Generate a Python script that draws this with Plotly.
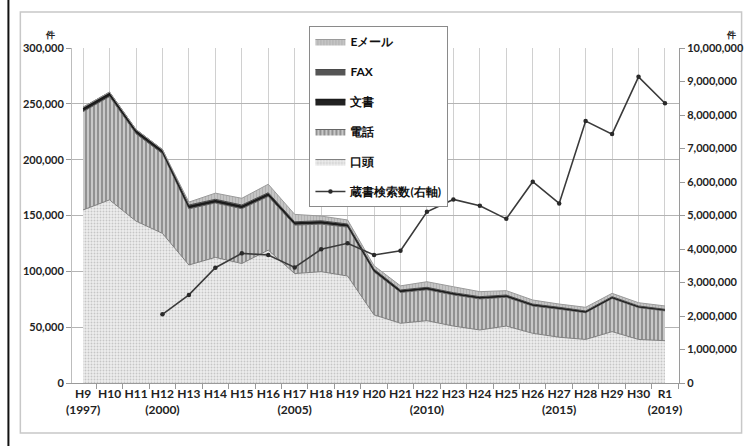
import plotly.graph_objects as go

# ---- data (件) ----
labels = ["H9<br>(1997)", "H10", "H11", "H12<br>(2000)", "H13", "H14", "H15", "H16",
          "H17<br>(2005)", "H18", "H19", "H20", "H21", "H22<br>(2010)", "H23", "H24",
          "H25", "H26", "H27<br>(2015)", "H28", "H29", "H30", "R1<br>(2019)"]
x_idx = list(range(len(labels)))

oral = [155000, 164000, 145000, 134000, 105700, 112500, 107000, 119000, 98000, 99700,
        95800, 61000, 53500, 55800, 51000, 47500, 51000, 44500, 41000, 39000, 46000,
        39000, 37900]
phone = [88000, 92500, 78200, 71400, 50300, 48700, 49100, 48100, 43400, 42600, 43800,
         38500, 27600, 27700, 27900, 27800, 25800, 24400, 25100, 23900, 29700, 28500,
         26700]
docs = [2500, 2500, 2300, 2200, 2000, 2000, 2000, 2000, 1800, 1800, 1700, 1500, 1300,
        1300, 1200, 1200, 1200, 1100, 1000, 1000, 1000, 900, 900]
fax = [1500, 1500, 1500, 1400, 1400, 1300, 1300, 1300, 1200, 1200, 1100, 1000, 900, 900,
       800, 800, 800, 700, 700, 600, 600, 600, 500]
email = [0, 0, 0, 0, 2600, 5500, 6000, 7600, 6600, 4200, 3600, 3000, 3700, 5000, 5300,
         4500, 3900, 3600, 2900, 3300, 3000, 2900, 3000]

search_x = list(range(3, 23))
search = [2050000, 2630000, 3440000, 3870000, 3820000, 3450000, 3990000, 4170000,
          3820000, 3950000, 5110000, 5480000, 5290000, 4900000, 6010000, 5360000,
          7820000, 7430000, 9140000, 8350000]

left_ticks = [0, 50000, 100000, 150000, 200000, 250000, 300000]
right_ticks = [0, 1000000, 2000000, 3000000, 4000000, 5000000, 6000000, 7000000,
               8000000, 9000000, 10000000]

FONT = "Lato"
fig = go.Figure()

fig.add_trace(go.Scatter(
    x=x_idx, y=oral, name="口頭", stackgroup="one", mode="lines",
    line=dict(color="#808080", width=1),
    fillpattern=dict(shape=".", fgcolor="#a0a0a0", bgcolor="#ededed", size=3, solidity=0.3),
    legendrank=5, legendgroup="g5"))
fig.add_trace(go.Scatter(
    x=x_idx, y=phone, name="電話", stackgroup="one", mode="lines",
    line=dict(color="#666666", width=1),
    fillpattern=dict(shape="|", fgcolor="#5a5a5a", bgcolor="#c8c8c8", size=4, solidity=0.5),
    legendrank=4, legendgroup="g4"))
fig.add_trace(go.Scatter(
    x=x_idx, y=docs, name="文書", stackgroup="one", mode="lines",
    line=dict(color="#1a1a1a", width=1.5), fillcolor="#222222",
    legendrank=3, legendgroup="g3"))
fig.add_trace(go.Scatter(
    x=x_idx, y=fax, name="FAX", stackgroup="one", mode="lines",
    line=dict(color="#4a4a4a", width=1), fillcolor="#555555",
    legendrank=2, legendgroup="g2"))
fig.add_trace(go.Scatter(
    x=x_idx, y=email, name="Eメール", stackgroup="one", mode="lines",
    line=dict(color="#9a9a9a", width=1),
    fillpattern=dict(shape="|", fgcolor="#999999", bgcolor="#c4c4c4", size=3, solidity=0.3),
    legendrank=1, legendgroup="g1"))

fig.add_trace(go.Scatter(
    x=search_x, y=search, name="蔵書検索数(右軸)", yaxis="y2", mode="lines+markers",
    line=dict(color="#3a3a3a", width=1.6),
    marker=dict(color="#2a2a2a", size=4.5, symbol="circle"),
    legendrank=6, legendgroup="g6"))

# Plot area: x 72..683 px, y 48..383 px
L, R, T, B = 72, 683, 48, 383
W, H = R - L, B - T
def px(xp):
    return (xp - L) / W
def py(yp):
    return (B - yp) / H

fig.update_layout(
    width=756, height=446,
    margin=dict(l=L, r=756 - R, t=T, b=446 - B),
    paper_bgcolor="white", plot_bgcolor="white",
    font=dict(family=FONT, color="#222222", size=12),
    showlegend=True,
    legend=dict(
        x=px(311), y=py(26), xanchor="left", yanchor="top",
        bgcolor="white", bordercolor="#8a8a8a", borderwidth=1,
        font=dict(family=FONT, size=12, color="#111111", weight="bold"),
        tracegroupgap=11, itemwidth=30,
    ),
    xaxis=dict(
        range=[-0.42, 22.53], tickmode="array", tickvals=x_idx, ticktext=labels,
        tickangle=0,
        showgrid=True, gridcolor="#d0d0d0", gridwidth=1,
        ticks="", showline=True, linecolor="#9a9a9a", linewidth=1,
        tickfont=dict(family=FONT, size=12, color="#222222", weight="bold"),
        zeroline=False, fixedrange=True,
        minor=dict(tickvals=[i + 0.5 for i in range(-1, 23)], ticks="outside",
                   ticklen=5, tickcolor="#9a9a9a", showgrid=False),
    ),
    yaxis=dict(
        range=[0, 300000], tickmode="array", tickvals=left_ticks,
        ticktext=[f"{v:,}" for v in left_ticks],
        showgrid=True, gridcolor="#b4b4b4", gridwidth=1,
        ticks="outside", ticklen=5, tickcolor="#9a9a9a",
        showline=True, linecolor="#bdbdbd", linewidth=1, zeroline=False,
        tickfont=dict(family=FONT, size=11, color="#222222", weight="bold"),
    ),
    yaxis2=dict(
        range=[0, 10000000], overlaying="y", side="right", tickmode="array",
        tickvals=right_ticks, ticktext=[f"{v:,}" for v in right_ticks],
        showgrid=False, ticks="outside", ticklen=5, tickcolor="#9a9a9a",
        showline=True, linecolor="#9a9a9a", linewidth=1, zeroline=False,
        tickfont=dict(family=FONT, size=11, color="#222222", weight="bold"),
    ),
)

# unit labels
fig.add_annotation(text="件", x=px(50), y=py(34), xref="paper", yref="paper",
                   xanchor="center", yanchor="middle",
                   showarrow=False, font=dict(size=9, color="#222222", weight="bold"))
fig.add_annotation(text="件", x=px(735), y=py(34), xref="paper", yref="paper",
                   xanchor="center", yanchor="middle",
                   showarrow=False, font=dict(size=9, color="#222222", weight="bold"))

# chart-area frame and left black rule
fig.add_shape(type="rect", xref="paper", yref="paper",
              x0=px(20), x1=px(746), y0=py(433), y1=py(12),
              line=dict(color="#c8c8c8", width=1.5), layer="below")
fig.add_shape(type="line", xref="paper", yref="paper",
              x0=px(8), x1=px(8), y0=py(446), y1=py(0),
              line=dict(color="#111111", width=2))

fig.write_html("out.html")
